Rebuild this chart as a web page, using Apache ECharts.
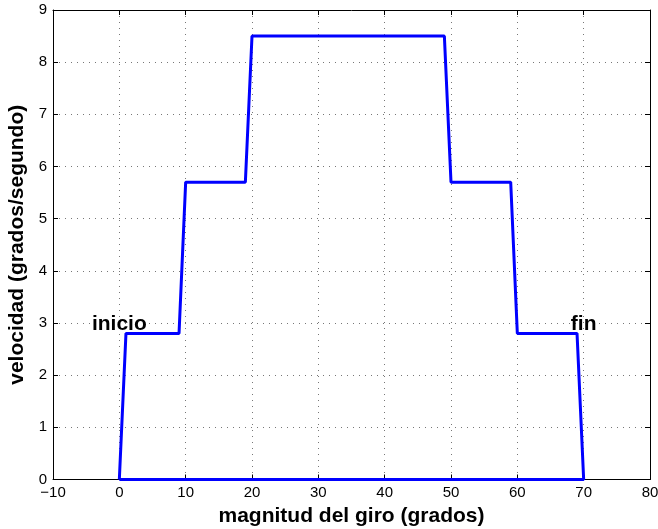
<!DOCTYPE html>
<html><head><meta charset="utf-8">
<script src="https://cdn.jsdelivr.net/npm/echarts@6/dist/echarts.min.js"></script>
<style>html,body{margin:0;padding:0;background:#fff}#c{width:658px;height:529px}</style>
</head><body><div id="c"></div>
<script>
const xValues = [0, 1, 9, 10, 19, 20, 49, 50, 59, 60, 69, 70, 0];
const yValues = [0, 2.8, 2.8, 5.7, 5.7, 8.5, 8.5, 5.7, 5.7, 2.8, 2.8, 0, 0];
const labelTexts = ['inicio', 'fin'];
const labelX = [0, 70];
const labelY = [2.98, 2.98];
const xLabel = 'magnitud del giro (grados)';
const yLabel = 'velocidad (grados/segundo)';

const font = '"Liberation Sans", Arial, Helvetica, sans-serif';
const chart = echarts.init(document.getElementById('c'), null, {renderer: 'canvas'});
const axisCommon = {
  type: 'value',
  axisLine: {show: true, onZero: false, lineStyle: {color: '#000', width: 1}},
  axisTick: {show: true, inside: true, length: 5, lineStyle: {color: '#000'}},
  splitLine: {show: false}
};
chart.setOption({
  animation: false,
  backgroundColor: '#fff',
  grid: {left: 53, right: 8, top: 10, bottom: 49.5, containLabel: false, outerBoundsMode: 'none'},
  xAxis: [
    Object.assign({}, axisCommon, {
      position: 'bottom', min: -10, max: 80, interval: 10,
      axisLabel: {color: '#000', fontSize: 15, fontFamily: font, margin: 6,
        formatter: v => (v < 0 ? '\u2212' + Math.abs(v) : String(v))},
      splitLine: {show: true, lineStyle: {color: '#777', type: [1, 5], width: 1}},
      name: xLabel, nameLocation: 'middle', nameGap: 25,
      nameTextStyle: {color: '#000', fontSize: 21, fontWeight: 'bold', fontFamily: font}
    }),
    Object.assign({}, axisCommon, {
      position: 'top', min: -10, max: 80, interval: 10, axisLabel: {show: false}
    })
  ],
  yAxis: [
    Object.assign({}, axisCommon, {
      position: 'left', min: 0, max: 9, interval: 1,
      axisLabel: {color: '#000', fontSize: 15, fontFamily: font, margin: 6},
      splitLine: {show: true, lineStyle: {color: '#777', type: [1, 5], width: 1}},
      name: yLabel, nameLocation: 'middle', nameGap: 24, nameRotate: 90,
      nameTextStyle: {color: '#000', fontSize: 21, fontWeight: 'bold', fontFamily: font}
    }),
    Object.assign({}, axisCommon, {
      position: 'right', min: 0, max: 9, interval: 1, axisLabel: {show: false}
    })
  ],
  series: [
    {
      type: 'line',
      data: xValues.map((x, i) => [x, yValues[i]]),
      showSymbol: false, symbol: 'none',
      lineStyle: {color: '#0000ff', width: 3},
      z: 5
    },
    {
      type: 'scatter',
      symbolSize: 0,
      itemStyle: {opacity: 1},
      data: labelTexts.map((t, i) => ({value: [labelX[i], labelY[i]], name: t})),
      label: {show: true, position: 'inside', formatter: p => p.name,
        color: '#000', fontSize: 21, fontWeight: 'bold', fontFamily: font},
      z: 10,
      silent: true
    }
  ]
});
</script></body></html>
